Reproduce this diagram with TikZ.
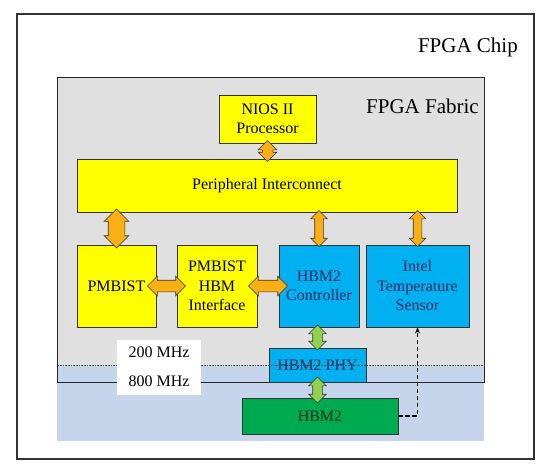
\documentclass[tikz,border=0pt]{standalone}
\usepackage{fontspec}
\setmainfont{Liberation Serif}
\usetikzlibrary{shapes.arrows,arrows.meta}

\definecolor{fabricgray}{RGB}{224,224,224}
\definecolor{hbmzone}{RGB}{199,213,236}
\definecolor{blockyellow}{RGB}{255,255,0}
\definecolor{blockblue}{RGB}{0,176,240}
\definecolor{blockgreen}{RGB}{0,170,80}
\definecolor{linkorange}{RGB}{250,175,20}
\definecolor{linkgreen}{RGB}{146,208,80}
\definecolor{navytext}{RGB}{25,45,95}
\definecolor{greentext}{RGB}{15,50,25}

\begin{document}
\begin{tikzpicture}[x=1pt,y=-1pt,
  block/.style={draw=black!80,line width=0.9pt,align=center,inner sep=0pt,
    font=\fontsize{16}{19.5}\selectfont},
  yblock/.style={block,fill=blockyellow},
  bblock/.style={block,fill=blockblue,text=navytext},
  link/.style={shape=double arrow,draw=black!80,line width=0.7pt,fill=linkorange,
    inner xsep=0pt,inner ysep=#1,double arrow head extend=4pt},
  link/.default=4pt,
  glink/.style={link=4.5pt,fill=linkgreen},
  title/.style={anchor=base east,inner sep=0pt,font=\fontsize{21}{25}\selectfont}]
  \useasboundingbox (0,0) rectangle (550,474);

  \node[draw=black!80,line width=1.3pt,minimum width=517pt,minimum height=445pt] (chip) at (275.5,236.5) {};
  \node[title] (chiplabel) at (518,52) {FPGA Chip};

  % clock domains
  \fill[hbmzone] (57,366) rectangle (484,441);
  \fill[fabricgray] (57,77) rectangle (484,366);
  \node[draw=black!85,line width=1pt,minimum width=427pt,minimum height=305pt] (fabric) at (270.5,229.5) {};
  \node[title] (fabriclabel) at (479,113) {FPGA Fabric};

  \node[yblock,minimum width=97pt,minimum height=48pt] (nios) at (267.5,119) {NIOS II\\Processor};
  \node[yblock,minimum width=380pt,minimum height=53pt] (periph) at (267,185.5) {Peripheral Interconnect};
  \node[yblock,minimum width=79pt,minimum height=82pt] (pmbist) at (116.5,286) {PMBIST};
  \node[yblock,minimum width=80pt,minimum height=82pt] (iface) at (217,286) {PMBIST\\HBM\\Interface};
  \node[bblock,minimum width=80pt,minimum height=82pt] (ctrl) at (319,286) {HBM2\\Controller};
  \node[bblock,minimum width=103pt,minimum height=82pt] (sensor) at (417.5,286) {Intel\\Temperature\\Sensor};
  \node[bblock,minimum width=97pt,minimum height=34pt] (phy) at (317.5,365) {HBM2 PHY};
  \node[block,fill=blockgreen,text=greentext,minimum width=156pt,minimum height=36pt] (hbm) at (320,416) {HBM2};

  \draw[black!70,line width=0.6pt,densely dotted] (fabric.west |- phy) -- (fabric.east |- phy);
  \node[fill=white,minimum width=84pt,minimum height=55pt,align=center,
    font=\fontsize{16}{29}\selectfont] (freq) at (159,367) {200 MHz\\800 MHz};

  \path (nios.south) -- (nios.south |- periph.north) node[midway,link=5pt,rotate=90,minimum height=21pt] (l1) {};
  \path (pmbist.north |- periph.south) -- (pmbist.north) node[midway,link=8pt,rotate=90,minimum height=39pt] (l2) {};
  \path (ctrl.north |- periph.south) -- (ctrl.north) node[midway,link=4pt,rotate=90,minimum height=36pt] (l3) {};
  \path (sensor.north |- periph.south) -- (sensor.north) node[midway,link=4pt,rotate=90,minimum height=36pt] (l4) {};
  \path (pmbist.east) -- (iface.west) node[midway,link=5.5pt,minimum height=38pt] (l5) {};
  \path (iface.east) -- (ctrl.west) node[midway,link=5.5pt,minimum height=39pt] (l6) {};
  \path (phy.north |- ctrl.south) -- (phy.north) node[midway,glink,rotate=90,minimum height=25pt] (l7) {};
  \path (phy.south) -- (phy.south |- hbm.north) node[midway,glink,rotate=90,minimum height=26pt] (l8) {};

  \draw[line width=1.3pt,dash pattern=on 4.5pt off 2.5pt,-{Stealth[length=6pt,width=5pt]}] (hbm.east) -| (sensor.south);
\end{tikzpicture}
\end{document}
